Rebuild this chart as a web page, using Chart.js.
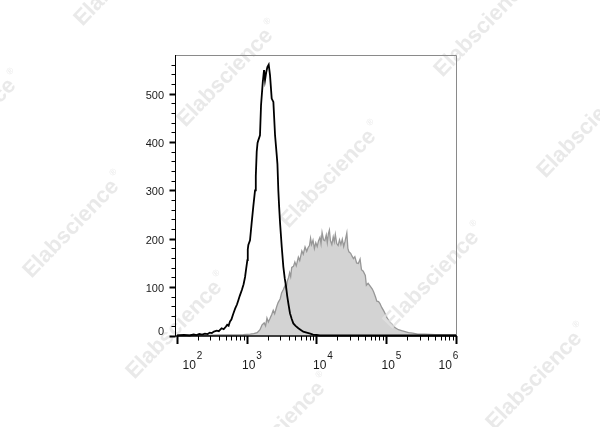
<!DOCTYPE html>
<html>
<head>
<meta charset="utf-8">
<script src="https://cdn.jsdelivr.net/npm/chart.js@4.4.1/dist/chart.umd.min.js"></script>
<style>
  html, body { margin: 0; padding: 0; background: #fff; }
  #wrap { position: relative; width: 600px; height: 427px; }
</style>
</head>
<body>
<div id="wrap"><canvas id="histo" width="600" height="427"></canvas></div>
<script>
// x values are log10 of fluorescence intensity, y values are event counts
const blackLog = [2.00, 2.10, 2.18, 2.24, 2.28, 2.32, 2.36, 2.40, 2.44, 2.47, 2.50, 2.53, 2.57, 2.60, 2.64, 2.67, 2.70, 2.72, 2.74, 2.76, 2.78, 2.80, 2.82, 2.835, 2.86, 2.88, 2.90, 2.93, 2.955, 2.976, 2.99, 3.009, 3.015, 3.023, 3.047, 3.07, 3.095, 3.119, 3.13, 3.143, 3.155, 3.167, 3.19, 3.205, 3.23, 3.248, 3.262, 3.28, 3.296, 3.315, 3.334, 3.358, 3.382, 3.406, 3.43, 3.44, 3.453, 3.465, 3.478, 3.502, 3.525, 3.545, 3.564, 3.58, 3.597, 3.62, 3.645, 3.668, 3.70, 3.74, 3.77, 3.81, 3.86, 3.91, 3.95, 4.00, 4.05, 6.00];
const blackCount = [0, 1, 0, 2, 1, 3, 2, 4, 3, 6, 5, 8, 10, 9, 15, 13, 18, 22, 20, 29, 33, 42, 50, 56, 64, 73, 82, 94, 106, 121, 136, 156, 178, 187, 197, 232, 268, 300, 330, 380, 398, 404, 414, 476, 524, 549, 528, 545, 555, 560, 538, 490, 483, 414, 373, 355, 300, 265, 232, 183, 142, 118, 101, 82, 66, 46, 34, 25, 20, 15, 12, 8, 6, 4, 2, 1, 0, 0];

const grayLog = [2.00, 2.20, 2.40, 2.60, 2.80, 2.95, 3.05, 3.10, 3.15, 3.19, 3.22, 3.25, 3.27, 3.29, 3.31, 3.33, 3.36, 3.38, 3.40, 3.43, 3.45, 3.48, 3.50, 3.525, 3.55, 3.565, 3.58, 3.60, 3.615, 3.63, 3.645, 3.67, 3.69, 3.71, 3.74, 3.76, 3.79, 3.81, 3.836, 3.86, 3.88, 3.90, 3.915, 3.93, 3.95, 3.97, 3.99, 4.01, 4.03, 4.05, 4.065, 4.08, 4.10, 4.12, 4.14, 4.155, 4.17, 4.185, 4.20, 4.22, 4.24, 4.255, 4.27, 4.29, 4.31, 4.33, 4.35, 4.37, 4.39, 4.41, 4.435, 4.45, 4.465, 4.49, 4.51, 4.53, 4.55, 4.575, 4.60, 4.625, 4.645, 4.67, 4.70, 4.715, 4.74, 4.77, 4.80, 4.82, 4.845, 4.865, 4.89, 4.91, 4.935, 4.96, 4.985, 5.01, 5.035, 5.056, 5.08, 5.10, 5.13, 5.175, 5.22, 5.27, 5.32, 5.38, 5.45, 5.55, 5.70, 5.85, 6.00];
const grayCount = [1, 1, 0, 1, 1, 2, 3, 4, 6, 12, 22, 26, 20, 36, 28, 34, 44, 52, 45, 60, 68, 76, 88, 95, 104, 96, 112, 120, 130, 122, 141, 143, 152, 144, 162, 155, 175, 168, 183, 174, 182, 186, 201, 188, 197, 180, 192, 184, 196, 203, 190, 213, 198, 196, 208, 192, 210, 218, 196, 188, 204, 194, 209, 190, 186, 198, 188, 199, 184, 195, 212, 180, 173, 170, 164, 159, 163, 150, 149, 158, 136, 133, 124, 104, 108, 102, 96, 90, 80, 71, 70, 66, 58, 52, 45, 37, 31, 27, 24, 20, 16, 12, 10, 8, 6, 5, 3, 3, 2, 2, 2];

const yTicks = [0, 100, 200, 300, 400, 500];
const xDecades = [2, 3, 4, 5, 6];

const toPoints = (logs, counts) => logs.map((l, i) => ({ x: Math.pow(10, l), y: counts[i] }));

// label nudges, as in the original figure
const xLabelShift = [5, -5.5, -3.5, -5, -18];
const marks = [[-29, 125], [74, 226], [177, 327], [280, 428], [125, -26], [228, 75], [331, 176], [434, 277], [537, 378], [485, 25], [588, 126]];

const FONT = '"Liberation Sans", Arial, sans-serif';

const decor = {
  id: 'decor',
  afterDatasetDraw(chart, args) {
    if (args.index !== 1) return;
    // watermark sits above the filled histogram, under the black one
    const ctx = chart.ctx;
    ctx.save();
    ctx.fillStyle = 'rgba(226,226,226,0.75)';
    marks.forEach(([cx, cy]) => {
      ctx.save();
      ctx.translate(cx, cy);
      ctx.rotate(-46 * Math.PI / 180);
      ctx.font = 'bold 22px ' + FONT;
      const w = ctx.measureText('Elabscience').width;
      ctx.textBaseline = 'middle';
      ctx.fillText('Elabscience', -w / 2 - 4, 0);
      ctx.font = '9px ' + FONT;
      ctx.fillText('\u00AE', w / 2 - 1, -9);
      ctx.restore();
    });
    ctx.restore();
  },
  afterDraw(chart) {
    const ctx = chart.ctx;
    const xs = chart.scales.x, ys = chart.scales.y;
    const a = chart.chartArea;
    const L = a.left - 0.5, R = a.right, T = a.top, B = a.bottom + 0.5;
    ctx.save();
    // frame
    ctx.strokeStyle = '#8a8a8a';
    ctx.lineWidth = 1;
    ctx.beginPath();
    ctx.moveTo(L, T + 0.5); ctx.lineTo(R + 0.5, T + 0.5); ctx.lineTo(R + 0.5, B);
    ctx.stroke();
    ctx.strokeStyle = '#000';
    ctx.beginPath();
    ctx.moveTo(L, T); ctx.lineTo(L, B);
    ctx.stroke();
    ctx.lineWidth = 1.5;
    ctx.beginPath();
    ctx.moveTo(L - 0.5, B); ctx.lineTo(R + 1, B);
    ctx.stroke();

    // y ticks
    ctx.lineWidth = 1;
    ctx.fillStyle = '#1a1a1a';
    ctx.font = '11px ' + FONT;
    ctx.textAlign = 'right';
    ctx.textBaseline = 'middle';
    for (let v = 0; v <= 560; v += 20) {
      const y = Math.round(ys.getPixelForValue(v)) + 0.5;
      const major = v % 100 === 0;
      ctx.lineWidth = major ? 2 : 1;
      ctx.beginPath();
      ctx.moveTo(L, y); ctx.lineTo(L - (major ? 6 : 4), y);
      ctx.stroke();
    }
    yTicks.forEach(v => {
      const y = ys.getPixelForValue(v);
      ctx.fillText(String(v), 164, v === 0 ? y - 4 : y + 2);
    });

    // x ticks, decades and 2..9 minors
    xDecades.forEach((d, i) => {
      const x = Math.round(xs.getPixelForValue(Math.pow(10, d))) + 0.5;
      ctx.lineWidth = 2;
      ctx.beginPath();
      ctx.moveTo(x, B); ctx.lineTo(x, B + 8);
      ctx.stroke();
      if (i < xDecades.length - 1) {
        ctx.lineWidth = 1;
        for (let m = 2; m <= 9; m++) {
          const xm = Math.round(xs.getPixelForValue(m * Math.pow(10, d))) + 0.5;
          ctx.beginPath();
          ctx.moveTo(xm, B); ctx.lineTo(xm, B + 4.5);
          ctx.stroke();
        }
      }
      // label 10^d
      const lx = x + xLabelShift[i];
      ctx.textAlign = 'left';
      ctx.textBaseline = 'alphabetic';
      ctx.font = '12px ' + FONT;
      ctx.fillText('10', lx, 369);
      const w = ctx.measureText('10').width;
      ctx.font = '10px ' + FONT;
      ctx.fillText(String(d), lx + w + 1, 359);
    });
    ctx.restore();
  }
};

new Chart(document.getElementById('histo'), {
  type: 'line',
  data: {
    datasets: [
      {
        label: 'Isotype',
        data: toPoints(blackLog, blackCount),
        borderColor: '#000',
        borderWidth: 1.8,
        fill: false,
        pointRadius: 0,
        tension: 0,
        clip: 3
      },
      {
        label: 'Stained',
        data: toPoints(grayLog, grayCount),
        borderColor: '#979797',
        backgroundColor: '#d3d3d3',
        borderWidth: 1.3,
        fill: 'origin',
        pointRadius: 0,
        tension: 0,
        clip: 3
      }
    ]
  },
  options: {
    responsive: false,
    animation: false,
    layout: { padding: { left: 176, top: 55, right: 144, bottom: 91.5 } },
    plugins: { legend: { display: false }, tooltip: { enabled: false } },
    scales: {
      x: { type: 'logarithmic', display: false, min: Math.pow(10, 1.986), max: 1e6 },
      y: { type: 'linear', display: false, min: 0, max: 580 }
    }
  },
  plugins: [decor]
});
</script>
</body>
</html>
